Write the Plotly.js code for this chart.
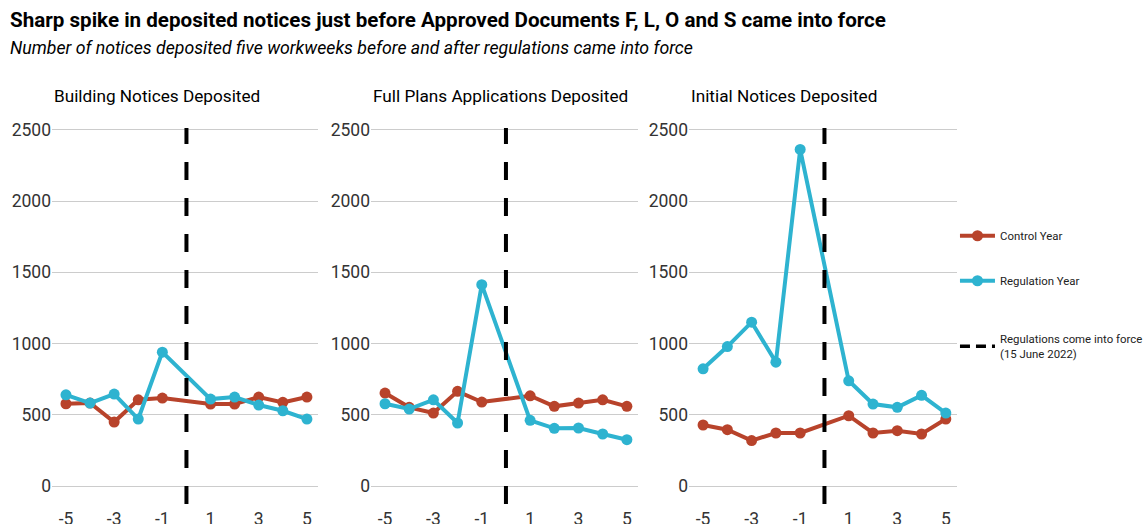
<!DOCTYPE html>
<html>
<head>
<meta charset="utf-8">
<script src="https://cdn.plot.ly/plotly-3.0.1.min.js"></script>
<style>html,body{margin:0;padding:0;background:#fff}</style>
</head>
<body>
<div id="chart" style="width:1143px;height:524px"></div>
<script>
// Data
const weeks = [-5, -4, -3, -2, -1, 1, 2, 3, 4, 5];
const panelTitles = ["Building Notices Deposited", "Full Plans Applications Deposited", "Initial Notices Deposited"];
const buildingControl    = [578, 583, 450, 606, 618, 576, 576, 625, 588, 625];
const buildingRegulation = [641, 583, 646, 471, 940, 611, 625, 569, 529, 471];
const fullPlansControl    = [653, 553, 513, 665, 590, 634, 560, 583, 606, 560];
const fullPlansRegulation = [578, 541, 606, 443, 1413, 462, 406, 408, 366, 326];
const initialControl    = [429, 396, 320, 373, 373, 494, 373, 389, 366, 471];
const initialRegulation = [823, 979, 1150, 870, 2362, 739, 576, 553, 637, 513];
const xTickVals = [-5, -3, -1, 1, 3, 5];
const xTickLabels = ["-5", "-3", "-1", "1", "3", "5"];
const yTickVals = [0, 500, 1000, 1500, 2000, 2500];
const forceWeek = 0;
const seriesNames = ["Control Year", "Regulation Year", "Regulations come into force<br>(15 June 2022)"];

const controlSets = [buildingControl, fullPlansControl, initialControl];
const regulationSets = [buildingRegulation, fullPlansRegulation, initialRegulation];

const RED = "#b8432b";
const BLUE = "#2eb3d0";
const Y_RANGE = [-125, 2512];
const FONT = "Roboto, 'Liberation Sans', Arial, sans-serif";

const domains = [[52/1143, 318/1143], [371/1143, 638/1143], [689/1143, 957/1143]];

const traces = [];
for (let i = 0; i < 3; i++) {
  const xa = i === 0 ? "x" : "x" + (i + 1);
  const ya = i === 0 ? "y" : "y" + (i + 1);
  traces.push({
    x: weeks, y: controlSets[i], xaxis: xa, yaxis: ya,
    type: "scatter", mode: "lines+markers", name: seriesNames[0],
    legendgroup: "c", showlegend: i === 0, legend: "legend",
    line: {color: RED, width: 4}, marker: {color: RED, size: 11},
    hoverinfo: "skip"
  });
  traces.push({
    x: weeks, y: regulationSets[i], xaxis: xa, yaxis: ya,
    type: "scatter", mode: "lines+markers", name: seriesNames[1],
    legendgroup: "r", showlegend: i === 0, legend: "legend",
    line: {color: BLUE, width: 4}, marker: {color: BLUE, size: 11},
    hoverinfo: "skip"
  });
  traces.push({
    x: [forceWeek, forceWeek], y: Y_RANGE, xaxis: xa, yaxis: ya,
    type: "scatter", mode: "lines", name: seriesNames[2],
    legendgroup: "d", showlegend: false,
    line: {color: "#000", width: 4, dash: "18px,18px"},
    hoverinfo: "skip", cliponaxis: false
  });
}
// legend-only entry for the reference line (no data points)
traces.push({
  x: [null], y: [null], type: "scatter", mode: "lines", name: seriesNames[2],
  legendgroup: "d", showlegend: true, legend: "legend2",
  line: {color: "#000", width: 3.5, dash: "10px,6px"}, hoverinfo: "skip"
});

const legendFont = {family: FONT, size: 11.4, color: "#222"};
const layout = {
  width: 1143, height: 524,
  margin: {l: 0, r: 0, t: 128, b: 20, autoexpand: false},
  paper_bgcolor: "#fff", plot_bgcolor: "#fff",
  font: {family: FONT, color: "#333", size: 16},
  showlegend: true,
  legend: {
    x: 0.8355, xanchor: "left", y: 0.752, yanchor: "top",
    font: legendFont, tracegroupgap: 26, itemwidth: 35, bgcolor: "rgba(0,0,0,0)"
  },
  legend2: {
    x: 0.8355, xanchor: "left", y: 0.476, yanchor: "top",
    font: legendFont, itemwidth: 35, bgcolor: "rgba(0,0,0,0)"
  },
  annotations: [
    {text: "<b>Sharp spike in deposited notices just before Approved Documents F, L, O and S came into force</b>",
     xref: "paper", yref: "paper", x: 8/1143, y: 1.286, xanchor: "left", yanchor: "middle",
     showarrow: false, font: {family: FONT, size: 20.6, color: "#000"}},
    {text: "<i>Number of notices deposited five workweeks before and after regulations came into force</i>",
     xref: "paper", yref: "paper", x: 8/1143, y: 1.214, xanchor: "left", yanchor: "middle",
     showarrow: false, font: {family: FONT, size: 17.7, color: "#000"}}
  ],
  hovermode: false
};

for (let i = 0; i < 3; i++) {
  const sfx = i === 0 ? "" : String(i + 1);
  layout["xaxis" + sfx] = {
    domain: domains[i], range: [-5.58, 5.46], anchor: "y" + sfx,
    tickvals: xTickVals, ticktext: xTickLabels, showgrid: false, zeroline: false, showline: false,
    ticks: "", ticklabelstandoff: 2, tickfont: {size: 17.5, color: "#333"}, fixedrange: true
  };
  layout["yaxis" + sfx] = {
    domain: [0, 1], range: Y_RANGE, anchor: "x" + sfx,
    tickvals: yTickVals, showgrid: true, gridcolor: "#cccccc", gridwidth: 1,
    zeroline: false, showline: false, ticks: "", tickfont: {size: 17.5, color: "#333"}, fixedrange: true
  };
  layout.annotations.push({
    text: panelTitles[i], xref: "paper", yref: "paper",
    x: domains[i][0], y: 1.084, xanchor: "left", yanchor: "middle",
    showarrow: false, font: {family: FONT, size: 17.2, color: "#000"}
  });
}

Plotly.newPlot("chart", traces, layout, {displayModeBar: false, staticPlot: true});
</script>
</body>
</html>
